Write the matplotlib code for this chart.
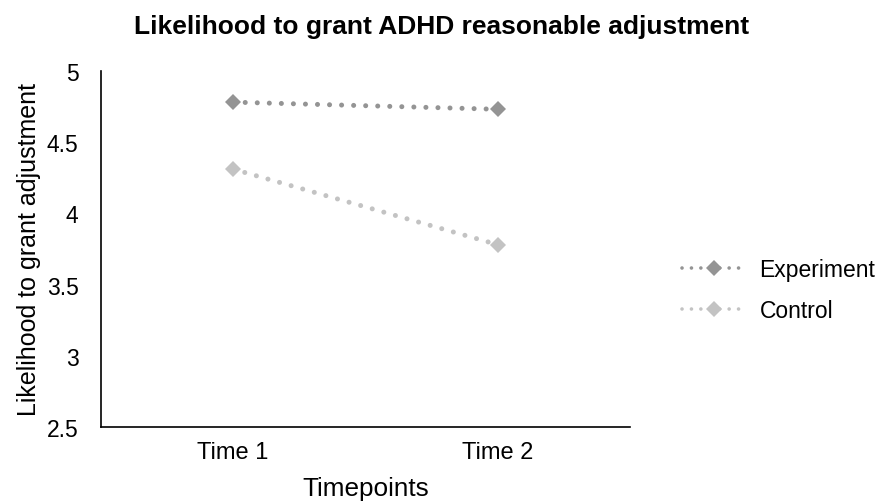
import matplotlib.pyplot as plt

plt.rcParams['font.family'] = ['Liberation Sans', 'DejaVu Sans']

timepoints = ["Time 1", "Time 2"]
experiment = [4.78, 4.73]
control = [4.31, 3.78]

fig = plt.figure(figsize=(8.84, 5.02), dpi=100)
ax = fig.add_axes([0.114, 0.147, 0.599, 0.71])

# round-capped near-zero dashes give the dotted look
dots = (0, (0.01, 2.4))
x = [0, 1]
ax.plot(x, experiment, color="#949494", linestyle=dots, linewidth=3.6,
        dash_capstyle="round", marker="D", markersize=8.5, markeredgewidth=0,
        label="Experiment")
ax.plot(x, control, color="#c3c3c3", linestyle=dots, linewidth=3.6,
        dash_capstyle="round", marker="D", markersize=8.5, markeredgewidth=0,
        label="Control")

ax.set_xlim(-0.5, 1.5)
ax.set_ylim(2.5, 5)
ax.set_xticks(x)
ax.set_xticklabels(timepoints)
ax.set_yticks([2.5, 3, 3.5, 4, 4.5, 5])
ax.set_yticklabels(["2.5", "3", "3.5", "4", "4.5", "5"])
ax.tick_params(axis="y", length=0, labelsize=16.5, pad=16)
ax.tick_params(axis="x", length=0, labelsize=17, pad=10)

for s in ["top", "right"]:
    ax.spines[s].set_visible(False)
for s in ["left", "bottom"]:
    ax.spines[s].set_linewidth(1.2)

ax.set_xlabel("Timepoints", fontsize=18.8, labelpad=9)
ax.set_ylabel("Likelihood to grant adjustment", fontsize=18)
ax.yaxis.set_label_coords(-0.113, 0.5)
fig.suptitle("Likelihood to grant ADHD reasonable adjustment", fontsize=19,
             fontweight="bold", x=0.5, y=0.97)

leg = fig.legend(loc="center left", bbox_to_anchor=(0.771, 0.42), frameon=False,
                 borderpad=0, borderaxespad=0, fontsize=16.5, handlelength=2.8,
                 handletextpad=0.6, labelspacing=0.8)
# smaller dots in the legend keys
for line in leg.get_lines():
    line.set_linewidth(2.6)
    line.set_linestyle((0, (0.01, 2.6)))

fig.savefig("out.png", dpi=100)
